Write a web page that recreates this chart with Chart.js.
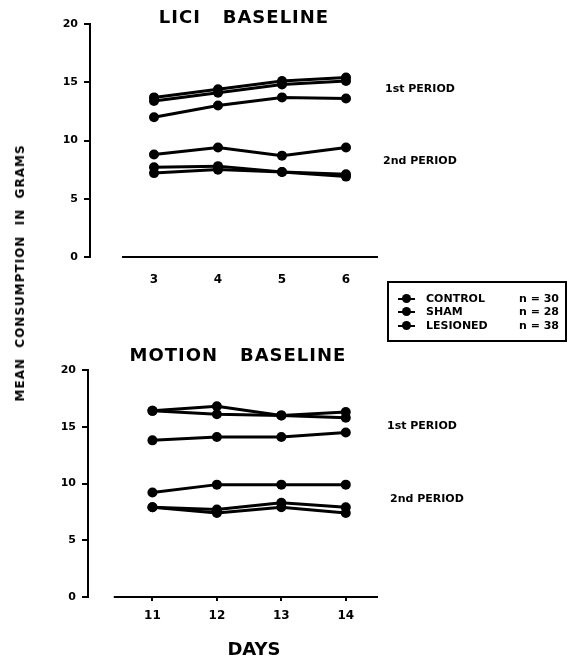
<!DOCTYPE html>
<html>
<head>
<meta charset="utf-8">
<script src="https://cdn.jsdelivr.net/npm/chart.js@4"></script>
<style>
  body { margin: 0; background: #fff; }
  #wrap { position: relative; width: 570px; height: 658px; font-family: "DejaVu Sans", sans-serif; font-weight: bold; color: #000; }
  canvas { position: absolute; left: 0; }
  .txt { position: absolute; white-space: nowrap; transform: translate(-50%, -50%); }
  .lbl { position: absolute; white-space: nowrap; font-size: 11px; transform: translateY(-50%); }
  #legend { position: absolute; left: 387px; top: 281px; width: 180px; height: 61px; border: 2px solid #000; box-sizing: border-box; }
  .row { position: absolute; left: 0; width: 176px; height: 14px; line-height: 14px; font-size: 11px; margin-top: -7px; white-space: nowrap; }
  .row span { position: absolute; top: 0; }
  .mk { left: 9px; top: 6px !important; width: 17px; height: 2px; background: #000; }
  .mk::after { content: ""; position: absolute; left: 4px; top: -4px; width: 9px; height: 9px; border-radius: 50%; background: #000; }
</style>
</head>
<body>
<div id="wrap">
  <canvas id="liciChart" style="top:0px"></canvas>
  <canvas id="motionChart" style="top:330px"></canvas>

  <div class="txt" style="left:244px; top:16px; font-size:18px; letter-spacing:1px;">LICI&nbsp;&nbsp;&nbsp;BASELINE</div>
  <div class="txt" style="left:238px; top:354px; font-size:18px; letter-spacing:1px;">MOTION&nbsp;&nbsp;&nbsp;BASELINE</div>

  <div class="lbl" style="left:385px; top:88px;">1st PERIOD</div>
  <div class="lbl" style="left:383px; top:160px;">2nd PERIOD</div>
  <div class="lbl" style="left:387px; top:425px;">1st PERIOD</div>
  <div class="lbl" style="left:390px; top:498px;">2nd PERIOD</div>

  <div class="txt" style="left:20px; top:273px; font-size:12px; letter-spacing:1px; transform:translate(-50%,-50%) rotate(-90deg);">MEAN&nbsp;&nbsp;CONSUMPTION&nbsp;&nbsp;IN&nbsp;&nbsp;GRAMS</div>
  <div class="txt" style="left:254px; top:648px; font-size:18px;">DAYS</div>

  <div id="legend"></div>
</div>

<script>
// day ticks
const liciDays = [3, 4, 5, 6];
const motionDays = [11, 12, 13, 14];

// LICI baseline, mean grams
const liciControl1 = [13.7, 14.4, 15.1, 15.4];
const liciSham1 = [13.4, 14.1, 14.8, 15.1];
const liciLesioned1 = [12.0, 13.0, 13.7, 13.6];
const liciControl2 = [8.8, 9.4, 8.7, 9.4];
const liciSham2 = [7.7, 7.8, 7.3, 7.1];
const liciLesioned2 = [7.2, 7.5, 7.3, 6.9];

// motion baseline, mean grams
const motionControl1 = [16.4, 16.8, 16.0, 16.3];
const motionSham1 = [16.4, 16.1, 16.0, 15.8];
const motionLesioned1 = [13.8, 14.1, 14.1, 14.5];
const motionControl2 = [9.2, 9.9, 9.9, 9.9];
const motionSham2 = [7.9, 7.7, 8.3, 7.9];
const motionLesioned2 = [7.9, 7.4, 7.9, 7.4];

const groups = ["CONTROL", "SHAM", "LESIONED"];
const groupN = [30, 28, 38];
const yTicks = [0, 5, 10, 15, 20];

// legend
const legend = document.getElementById("legend");
const rowTops = [16, 29, 43];
groups.forEach((g, i) => {
    const row = document.createElement("div");
    row.className = "row";
    row.style.top = rowTops[i] + "px";
    row.innerHTML = '<span class="mk"></span><span style="left:37px">' + g +
        '</span><span style="left:130px">n = ' + groupN[i] + '</span>';
    legend.appendChild(row);
});

// x-axis line that starts a bit right of the y-axis
const axisLine = {
    id: "axisLine",
    afterDraw(chart, args, opts) {
        const x = chart.scales.x, y = chart.scales.y;
        const ctx = chart.ctx;
        ctx.save();
        ctx.strokeStyle = "#000";
        ctx.lineWidth = 2;
        ctx.beginPath();
        ctx.moveTo(x.getPixelForValue(opts.start), y.getPixelForValue(0));
        ctx.lineTo(chart.chartArea.right, y.getPixelForValue(0));
        ctx.stroke();
        ctx.restore();
    }
};

function series(days, vals) {
    return {
        data: days.map((d, i) => ({x: d, y: vals[i]})),
        borderColor: "#000",
        backgroundColor: "#000",
        borderWidth: 3,
        pointRadius: 5,
        pointBorderWidth: 0,
        tension: 0,
        clip: false
    };
}

function buildChart(id, h, days, allSeries, xMin, xMax, padLeft, padTop, lineStart, xTickLen) {
    const canvas = document.getElementById(id);
    canvas.width = 400;
    canvas.height = h;
    canvas.style.width = "400px";
    canvas.style.height = h + "px";
    return new Chart(canvas.getContext("2d"), {
        type: "line",
        data: { datasets: allSeries.map(v => series(days, v)) },
        plugins: [axisLine],
        options: {
            responsive: false,
            animation: false,
            layout: { padding: { left: padLeft, top: padTop, right: 22, bottom: 0 } },
            plugins: { legend: { display: false }, tooltip: { enabled: false }, axisLine: { start: lineStart } },
            scales: {
                x: {
                    type: "linear",
                    min: xMin,
                    max: xMax,
                    afterBuildTicks: axis => { axis.ticks = days.map(v => ({value: v})); },
                    afterFit: s => { s.height = 43; },
                    border: { display: false },
                    grid: { display: xTickLen > 0, drawOnChartArea: false, drawTicks: xTickLen > 0, tickLength: xTickLen, color: "#000", lineWidth: 2 },
                    ticks: { color: "#000", padding: xTickLen > 0 ? 8 : 16, maxRotation: 0, font: { family: "DejaVu Sans", weight: "bold", size: 12 } }
                },
                y: {
                    min: 0,
                    max: 20,
                    afterBuildTicks: axis => { axis.ticks = yTicks.map(v => ({value: v})); },
                    afterFit: s => { s.width = 50; },
                    border: { display: true, color: "#000", width: 2 },
                    grid: { drawOnChartArea: false, drawTicks: true, tickLength: 6, color: "#000", lineWidth: 2 },
                    ticks: { color: "#000", padding: 6, font: { family: "DejaVu Sans", weight: "bold", size: 11 } }
                }
            }
        }
    });
}

buildChart("liciChart", 300, liciDays,
    [liciControl1, liciSham1, liciLesioned1, liciControl2, liciSham2, liciLesioned2],
    2, 6.5, 40, 24, 2.5, 0);

buildChart("motionChart", 310, motionDays,
    [motionControl1, motionSham1, motionLesioned1, motionControl2, motionSham2, motionLesioned2],
    10, 14.5, 38, 40, 10.4, 4);
</script>
</body>
</html>
